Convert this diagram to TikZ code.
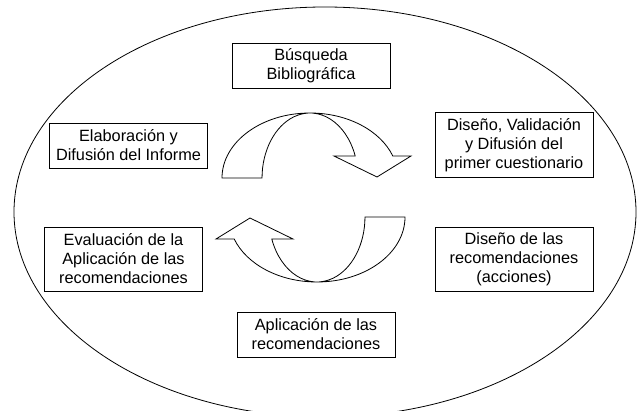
\documentclass[tikz,border=0pt]{standalone}
\usepackage{fontspec}
\setmainfont{Liberation Sans}
\begin{document}
\begin{tikzpicture}[x=1pt,y=1pt,
  box/.style={draw=black, line width=0.9pt, fill=white, align=center,
    inner sep=0pt, minimum width=158pt,
    font=\fontsize{16.3}{19}\selectfont},
  bent/.style={draw=black, line width=0.8pt, fill=white, line join=miter}]
\useasboundingbox (0,0) rectangle (637,410);
\clip (0,0) rectangle (637,410);
\fill[white] (0,0) rectangle (637,410);
% outer ellipse
\draw[line width=0.8pt] (325,198) ellipse [x radius=311, y radius=205];
% top curved arrow
\draw[bent] (222,232) arc[start angle=180, end angle=19.8, x radius=88, y radius=65]
  -- (411,254) -- (377,233) -- (334,254)
  -- (355.2,254) arc[start angle=19.8, end angle=180, x radius=48, y radius=65] -- cycle;
% bottom curved arrow (top one turned half round)
\begin{scope}[rotate around={180:(313.5,212.5)}]
\draw[bent] (222,232) arc[start angle=180, end angle=19.8, x radius=88, y radius=65]
  -- (411,254) -- (377,233) -- (334,254)
  -- (355.2,254) arc[start angle=19.8, end angle=180, x radius=48, y radius=65] -- cycle;
\end{scope}
% boxes
\node[box, minimum height=45pt] (busq) at (311,344.5) {Búsqueda\\Bibliográfica};
\node[box, minimum height=65pt] (disval) at (514,265) {Diseño, Validación\\y Difusión del\\primer cuestionario};
\node[box, minimum height=64pt] (disrec) at (514,151) {Diseño de las\\recomendaciones\\(acciones)};
\node[box, minimum height=45pt] (aplic) at (316,75.5) {Aplicación de las\\recomendaciones};
\node[box, minimum height=64pt] (eval) at (123.5,151) {Evaluación de la\\Aplicación de las\\recomendaciones};
\node[box, minimum height=45pt] (elab) at (128.5,264.5) {Elaboración y\\Difusión del Informe};
\end{tikzpicture}
\end{document}
